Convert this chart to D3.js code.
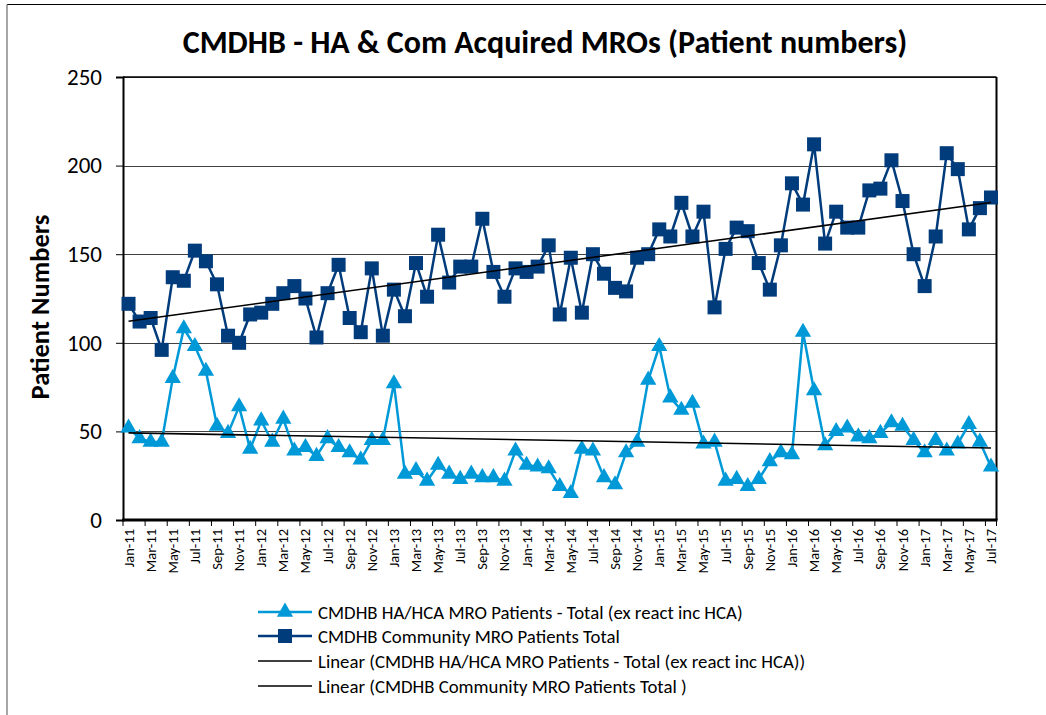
<!DOCTYPE html>
<html>
<head>
<meta charset="utf-8">
<script src="https://cdn.jsdelivr.net/npm/d3@7"></script>
<style>
  html, body { margin: 0; padding: 0; background: #fff; }
  svg { display: block; }
  text { font-family: Carlito, Lato, "Open Sans", sans-serif; fill: #000; }
</style>
</head>
<body>
<svg id="chart" width="1046" height="715"></svg>
<script>
// ---- Data ----
const months = (function () {
  const m = ["Jan","Feb","Mar","Apr","May","Jun","Jul","Aug","Sep","Oct","Nov","Dec"];
  const out = [];
  for (let y = 11; y <= 17; y++) for (let k = 0; k < 12; k++) {
    if (y === 17 && k > 6) break;
    out.push(m[k] + "-" + y);
  }
  return out;
})();

const haHcaValues = [
  52, 46, 44, 44, 80, 108, 98, 84, 53, 49, 64, 40,
  56, 44, 57, 39, 41, 36, 46, 41, 38, 34, 45, 45,
  77, 26, 28, 22, 31, 26, 23, 26, 24, 24, 22, 39,
  31, 30, 29, 19, 15, 40, 39, 24, 20, 38, 44, 79,
  98, 69, 62, 66, 43, 44, 22, 23, 19, 23, 33, 38,
  37, 106, 73, 42, 50, 52, 47, 46, 49, 55, 53, 45,
  38, 45, 39, 43, 54, 44, 30
];

const communityValues = [
  122, 112, 114, 96, 137, 135, 152, 146, 133, 104, 100, 116,
  117, 122, 128, 132, 125, 103, 128, 144, 114, 106, 142, 104,
  130, 115, 145, 126, 161, 134, 143, 143, 170, 140, 126, 142,
  140, 143, 155, 116, 148, 117, 150, 139, 131, 129, 148, 150,
  164, 160, 179, 160, 174, 120, 153, 165, 163, 145, 130, 155,
  190, 178, 212, 156, 174, 165, 165, 186, 187, 203, 180, 150,
  132, 160, 207, 198, 164, 176, 182
];

const yTicks = [0, 50, 100, 150, 200, 250];

const seriesNames = [
  "CMDHB HA/HCA MRO Patients - Total (ex react inc HCA)",
  "CMDHB Community MRO Patients Total",
  "Linear (CMDHB HA/HCA MRO Patients - Total (ex react inc HCA))",
  "Linear (CMDHB Community MRO Patients Total )"
];

const titleText = "CMDHB - HA & Com Acquired MROs (Patient numbers)";
const yTitle = "Patient Numbers";

// ---- Layout ----
const colHA = "#0099D8";
const colCom = "#003B7B";
const svg = d3.select("#chart");
const plot = { left: 123, right: 996.5, top: 77, bottom: 520 };

// outer frame (partial, as in reference)
svg.append("line").attr("x1", 7).attr("x2", 1046).attr("y1", 4.5).attr("y2", 4.5)
  .attr("stroke", "#000").attr("stroke-width", 1);
svg.append("line").attr("x1", 7).attr("x2", 7).attr("y1", 4.5).attr("y2", 715)
  .attr("stroke", "#888").attr("stroke-width", 1.5);

const x = d3.scaleBand().domain(months).range([plot.left, plot.right]).padding(0);
const xc = d => x(d) + x.bandwidth() / 2;
const y = d3.scaleLinear().domain([0, 250]).range([plot.bottom, plot.top]);

// gridlines
svg.append("g").selectAll("line").data(yTicks.filter(v => v > 0)).join("line")
  .attr("x1", plot.left).attr("x2", plot.right)
  .attr("y1", d => Math.round(y(d)) + 0.5).attr("y2", d => Math.round(y(d)) + 0.5)
  .attr("stroke", "#000").attr("stroke-opacity", 0.75).attr("stroke-width", 1);

// plot border top/right
svg.append("line").attr("x1", plot.left).attr("x2", plot.right)
  .attr("y1", plot.top).attr("y2", plot.top).attr("stroke", "#000").attr("stroke-width", 1.5);
svg.append("line").attr("x1", plot.right).attr("x2", plot.right)
  .attr("y1", plot.top).attr("y2", plot.bottom).attr("stroke", "#000").attr("stroke-width", 2);

// y axis
const yAxis = d3.axisLeft(y).tickValues(yTicks).tickSize(7).tickPadding(14);
const gy = svg.append("g").attr("transform", `translate(${plot.left},0)`).call(yAxis);
gy.select(".domain").attr("stroke", "#000").attr("stroke-width", 2);
gy.selectAll(".tick line").attr("stroke", "#000").attr("stroke-width", 1);
gy.selectAll(".tick text").attr("font-size", 23).attr("font-family", "Carlito, Lato, 'Open Sans', sans-serif");

// x axis: ticks between categories every 2 months, labels at every other category
const gx = svg.append("g").attr("transform", `translate(0,${plot.bottom})`);
gx.append("line").attr("x1", plot.left - 1).attr("x2", plot.right + 1)
  .attr("y1", 0).attr("y2", 0).attr("stroke", "#000").attr("stroke-width", 3);
const tickCats = months.filter((d, i) => i % 2 === 0);
gx.selectAll("line.tk").data(tickCats).join("line").attr("class", "tk")
  .attr("x1", d => x(d)).attr("x2", d => x(d)).attr("y1", 0).attr("y2", 6)
  .attr("stroke", "#000").attr("stroke-width", 1);
gx.append("line").attr("x1", plot.right).attr("x2", plot.right).attr("y1", 0).attr("y2", 6)
  .attr("stroke", "#000");
gx.selectAll("text").data(tickCats).join("text")
  .attr("transform", d => `translate(${xc(d) + 5},9) rotate(-90)`)
  .attr("text-anchor", "end").attr("font-size", 14.5)
  .text(d => d);

// trend lines (least squares)
function linfit(vals) {
  const n = vals.length;
  const xm = d3.mean(vals, (v, i) => i), ym = d3.mean(vals);
  let sxy = 0, sxx = 0;
  vals.forEach((v, i) => { sxy += (i - xm) * (v - ym); sxx += (i - xm) * (i - xm); });
  const b = sxy / sxx, a = ym - b * xm;
  return [a, a + b * (n - 1)];
}

const lineGen = d3.line().x((d, i) => xc(months[i])).y(d => y(d));

// community series
svg.append("path").datum(communityValues).attr("d", lineGen)
  .attr("fill", "none").attr("stroke", colCom).attr("stroke-width", 2.5);
svg.append("g").selectAll("rect").data(communityValues).join("rect")
  .attr("x", (d, i) => xc(months[i]) - 7).attr("y", d => y(d) - 7)
  .attr("width", 14).attr("height", 14).attr("fill", colCom);

// HA series
svg.append("path").datum(haHcaValues).attr("d", lineGen)
  .attr("fill", "none").attr("stroke", colHA).attr("stroke-width", 2.5);
const tri = d3.symbol().type(d3.symbolTriangle).size(115);
svg.append("g").selectAll("path").data(haHcaValues).join("path")
  .attr("d", tri)
  .attr("transform", (d, i) => `translate(${xc(months[i])},${y(d)})`)
  .attr("fill", colHA);

// trendlines drawn on top
[haHcaValues, communityValues].forEach(vals => {
  const [a, b] = linfit(vals);
  svg.append("line")
    .attr("x1", xc(months[0])).attr("y1", y(a))
    .attr("x2", xc(months[months.length - 1])).attr("y2", y(b))
    .attr("stroke", "#000").attr("stroke-width", 1.6);
});

// title
svg.append("text").attr("x", 545).attr("y", 53).attr("text-anchor", "middle")
  .attr("font-size", 32).attr("font-weight", "bold").text(titleText);

// y title
svg.append("text").attr("transform", "translate(49,307) rotate(-90)")
  .attr("text-anchor", "middle").attr("font-size", 26.5).attr("font-weight", "bold")
  .text(yTitle);

// legend
const legY = [612, 636, 661, 686];
const lg = svg.append("g");
seriesNames.forEach((name, i) => {
  const yy = legY[i];
  const col = i === 0 ? colHA : i === 1 ? colCom : "#000";
  lg.append("line").attr("x1", 258).attr("x2", 312).attr("y1", yy).attr("y2", yy)
    .attr("stroke", col).attr("stroke-width", i < 2 ? 2.5 : 1.6);
  if (i === 0) lg.append("path").attr("d", tri).attr("transform", `translate(285,${yy})`).attr("fill", colHA);
  if (i === 1) lg.append("rect").attr("x", 278).attr("y", yy - 7).attr("width", 14).attr("height", 14).attr("fill", colCom);
  lg.append("text").attr("x", 318).attr("y", yy + 6.5).attr("font-size", 18.8).text(name);
});
</script>
</body>
</html>
